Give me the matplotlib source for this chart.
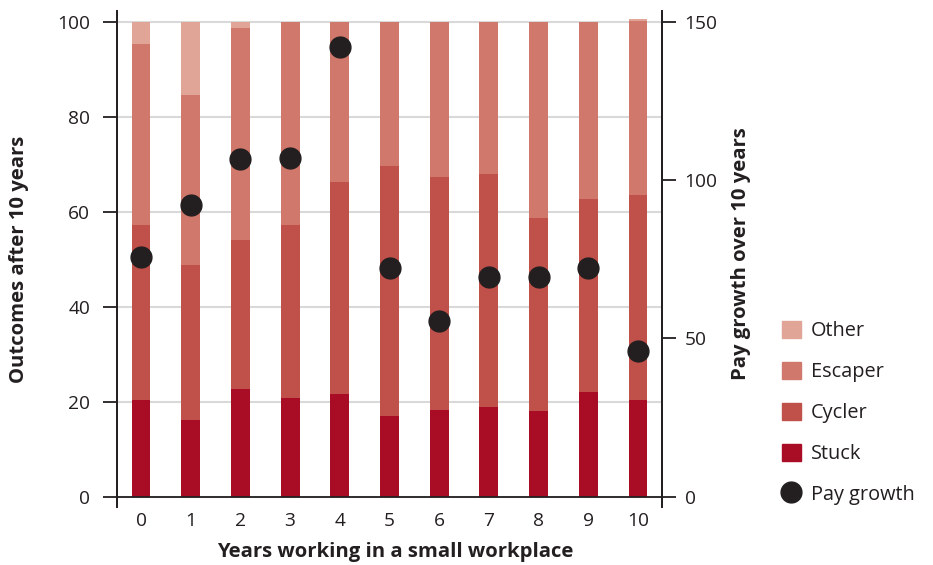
import numpy as np
import matplotlib.pyplot as plt
from matplotlib.patches import Patch
from matplotlib.lines import Line2D

plt.rcParams['font.family'] = ['Open Sans', 'DejaVu Sans']

# data
years = [0, 1, 2, 3, 4, 5, 6, 7, 8, 9, 10]
stuck = [20.3, 16.2, 22.7, 20.8, 21.7, 17.0, 18.3, 18.9, 18.1, 22.1, 20.3]
cycler = [37.0, 32.6, 31.4, 36.5, 44.6, 52.7, 48.9, 49.1, 40.6, 40.6, 43.3]
escaper = [37.9, 35.8, 44.6, 42.7, 33.7, 30.3, 32.8, 32.0, 41.3, 37.3, 36.6]
other = [4.8, 15.4, 1.3, 0.0, 0.0, 0.0, 0.0, 0.0, 0.0, 0.0, 0.4]
pay_growth = [75.7, 92.1, 106.6, 106.8, 141.9, 72.2, 55.6, 69.3, 69.5, 72.2, 46.1]

dark = '#231F20'
c_stuck = '#A90D26'
c_cycler = '#C0504A'
c_escaper = '#CF786B'
c_other = '#E0A597'

fig = plt.figure(figsize=(9.33, 5.65), dpi=100)
ax = fig.add_axes([116.7 / 933, 58 / 565, 545.6 / 933, 496 / 565])
ax2 = ax.twinx()

# stacked bars
x = np.array(years)
w = 0.38
bottom = np.zeros(len(x))
for vals, col, lab in [(stuck, c_stuck, 'Stuck'), (cycler, c_cycler, 'Cycler'),
                       (escaper, c_escaper, 'Escaper'), (other, c_other, 'Other')]:
    ax.bar(x, vals, w, bottom=bottom, color=col, label=lab, zorder=2)
    bottom += np.array(vals)

# pay growth dots on right axis
ax2.scatter(x, pay_growth, s=225, color=dark, zorder=5, label='Pay growth')

# axes setup
ax.set_xlim(-0.49, 10.49)
ax.set_ylim(-2.17, 102.25)
ax2.set_ylim(-2.17 * 1.5, 102.25 * 1.5)
ax.set_yticks([0, 20, 40, 60, 80, 100])
ax2.set_yticks([0, 50, 100, 150])
ax.set_xticks(years)

ax.yaxis.grid(True, color='#D9D9D9', lw=1.5)
ax.set_axisbelow(True)
ax.axhline(0, color=dark, lw=1.3, zorder=3)

for a in (ax, ax2):
    for s in ('top', 'bottom'):
        a.spines[s].set_visible(False)
    for s in ('left', 'right'):
        a.spines[s].set_color(dark)
        a.spines[s].set_linewidth(1.3)

ax.tick_params(axis='y', direction='out', length=10, width=1.3, color=dark,
               labelsize=13.8, labelcolor=dark, pad=9)
ax2.tick_params(axis='y', direction='out', length=10, width=1.3, color=dark,
                labelsize=13.8, labelcolor=dark, pad=6)
ax.tick_params(axis='x', length=0, labelsize=13.8, labelcolor=dark, pad=3.5)

ax.set_ylabel('Outcomes after 10 years', fontsize=14.6, fontweight='bold', color=dark,
              ha='center', va='center')
ax.yaxis.set_label_coords(-0.179, 0.5)
ax2.set_ylabel('Pay growth over 10 years', fontsize=14.6, fontweight='bold', color=dark,
               ha='center', va='center')
ax2.yaxis.set_label_coords(1.144, 0.51)
ax.set_xlabel('Years working in a small workplace', fontsize=14.6, fontweight='bold',
              color=dark, ha='center', va='center')
ax.xaxis.set_label_coords(0.51, -0.09)

# legend
handles = [Patch(color=c_other, label='Other'),
           Patch(color=c_escaper, label='Escaper'),
           Patch(color=c_cycler, label='Cycler'),
           Patch(color=c_stuck, label='Stuck'),
           Line2D([], [], ls='none', marker='o', markersize=15, color=dark, label='Pay growth')]
leg = fig.legend(handles=handles, loc='upper left', bbox_to_anchor=(782 / 933, 1 - 321 / 565),
                 frameon=False, fontsize=14.3, handlelength=0.95, handleheight=0.95,
                 handletextpad=0.5, labelspacing=1.03, borderpad=0, borderaxespad=0)
for t in leg.get_texts():
    t.set_color(dark)

fig.savefig('out.png', dpi=100)
